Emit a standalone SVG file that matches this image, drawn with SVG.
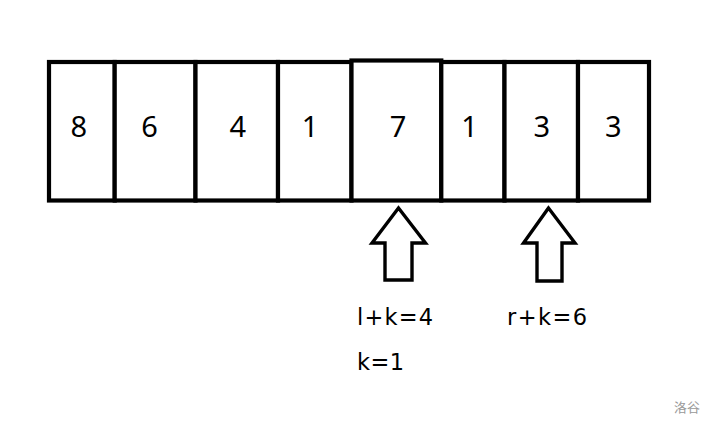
<svg xmlns="http://www.w3.org/2000/svg" width="715" height="426" viewBox="0 0 715 426">
<style>
.cell{fill:#fff;stroke:#000;stroke-width:4.2}
.num{font-family:"Noto Sans","Open Sans",sans-serif;font-size:29px;fill:#000;text-anchor:middle}
.lbl{font-family:"DejaVu Sans","Noto Sans",sans-serif;font-size:22.5px;fill:#000}
.arrow{fill:#fff;stroke:#000;stroke-width:3.4;stroke-linejoin:miter}
.wm{font-family:"Noto Sans CJK SC",sans-serif;font-size:13px;fill:#999}
</style>
<rect width="715" height="426" fill="#fff"/>
<g id="cell-1"><rect class="cell" x="49" y="62" width="65.7" height="138.5"/><text class="num" x="78.7" y="137.3">8</text></g>
<g id="cell-2"><rect class="cell" x="114.7" y="62" width="80.8" height="138.5"/><text class="num" x="149.5" y="137.3">6</text></g>
<g id="cell-3"><rect class="cell" x="195.5" y="62" width="82.5" height="138.5"/><text class="num" x="237.7" y="137.3">4</text></g>
<g id="cell-4"><rect class="cell" x="278" y="62" width="73.5" height="138.5"/><text class="num" x="310" y="137.3">1</text></g>
<g id="cell-5"><rect class="cell" x="351.5" y="60.5" width="89.8" height="140"/><text class="num" x="398" y="137.3">7</text></g>
<g id="cell-6"><rect class="cell" x="441.3" y="62" width="63.2" height="138.5"/><text class="num" x="469.5" y="137.3">1</text></g>
<g id="cell-7"><rect class="cell" x="504.5" y="62" width="73.5" height="138.5"/><text class="num" x="541.7" y="137.3">3</text></g>
<g id="cell-8"><rect class="cell" x="578" y="62" width="71" height="138.5"/><text class="num" x="613.3" y="137.3">3</text></g>
<g id="connectors">
<polygon id="arrow-l" class="arrow" points="398.5,208 372,243 385,243 385,280 412,280 412,243 425.5,243"/>
<polygon id="arrow-r" class="arrow" points="548.5,208 523.5,243 537,243 537,281 562,281 562,243 575,243"/>
</g>
<g id="labels">
<text class="lbl" x="357" y="325" textLength="76" lengthAdjust="spacing">l+k=4</text>
<text class="lbl" x="507" y="325" textLength="80" lengthAdjust="spacing">r+k=6</text>
<text class="lbl" x="357" y="370" textLength="47" lengthAdjust="spacing">k=1</text>
</g>
<text class="wm" x="674" y="412">洛谷</text>
</svg>
